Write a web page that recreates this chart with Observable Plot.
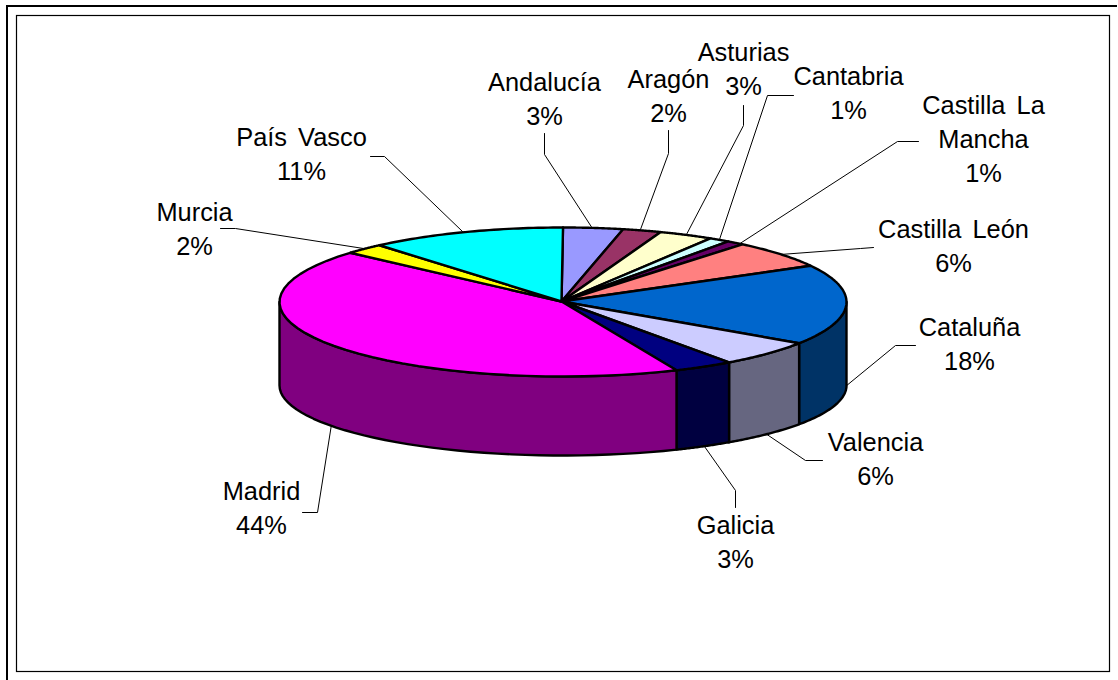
<!DOCTYPE html>
<html>
<head>
<meta charset="utf-8">
<style>html,body{margin:0;padding:0;background:#fff;overflow:hidden}svg{display:block}svg text{word-spacing:4px}</style>
<script src="https://cdn.jsdelivr.net/npm/d3@7"></script>
<script src="https://cdn.jsdelivr.net/npm/@observablehq/plot@0.6"></script>
</head>
<body>
<script>
// Data
const regions = ["Andalucía","Aragón","Asturias","Cantabria","Castilla La\nMancha","Castilla León","Cataluña","Valencia","Galicia","Madrid","Murcia","País Vasco"];
const percentLabels = [3,2,3,1,1,6,18,6,3,44,2,11];
// Slice widths as drawn (in % of the turn)
const drawnShares = [3.4,2.2,3.1,1.2,1.0,6.0,17.4,5.7,3.4,43.0,2.3,11.2];
const topColors = ["#9999FF","#993366","#FFFFCC","#CCFFFF","#660066","#FF8080","#0066CC","#CCCCFF","#000080","#FF00FF","#FFFF00","#00FFFF"];
const sideColors = ["#4C4C80","#4C1933","#808066","#668080","#330033","#804040","#003366","#666680","#000040","#800080","#808000","#008080"];

// Layout (chart-space positions, separate from the data)
const W = 1118, H = 680;
const apex = [561, 301];
const topEllipse = {cx: 562.5, cy: 301.5, rx: 283.5, ry: 74.5};
const baseEllipse = {cx: 562.5, cy: 385, rx: 283.5, ry: 70};
const labelPos = [[544,96.5],[668,94],[743,67],[848,91],[983,137],[953,244],[969,342],[875,457],[735,540],[261,506],[194,227],[301,152]];
const leaderPaths = [
  [[544,133],[544,154],[592,228]],
  [[668,130],[668,153],[640,229]],
  [[743,105],[743,125],[686,234]],
  [[793,95],[767,95],[719,239]],
  [[918,141],[897,141],[738,244]],
  [[873,247],[860,248],[780,254]],
  [[915,345],[895,345],[845,386]],
  [[822,460],[805,460],[765,433]],
  [[735,507],[735,490],[704,446]],
  [[302,512],[317,512],[331,424]],
  [[220,228],[235,228],[363,248]],
  [[370,156],[384,156],[462,231]]
];

const total = d3.sum(drawnShares);
const angle = d3.scaleLinear().domain([0,total]).range([0,2*Math.PI]);
const on = (e,t) => [e.cx + e.rx*Math.sin(t), e.cy - e.ry*Math.cos(t)];
const arcPts = (e,a,b) => d3.range(0,41).map(i => on(e, a+(b-a)*i/40));
const cum = d3.cumsum(drawnShares);

const topPts = [], sidePts = [];
regions.forEach((name,i) => {
  const a = angle(i ? cum[i-1] : 0), b = angle(cum[i]);
  const ring = [apex, ...arcPts(topEllipse,a,b), apex];
  ring.forEach(([x,y]) => topPts.push({x,y,name,c:topColors[i]}));
  // the visible wall: front half of the rim only
  const s = Math.max(a, Math.PI/2), e = Math.min(b, 3*Math.PI/2);
  if (s < e) {
    const wall = [...arcPts(topEllipse,s,e), ...arcPts(baseEllipse,s,e).reverse()];
    wall.push(wall[0]);
    wall.forEach(([x,y]) => sidePts.push({x,y,name,c:sideColors[i]}));
  }
});
const leaders = leaderPaths.flatMap((p,i) => p.map(([x,y]) => ({x,y,i})));
const labels = regions.map((r,i) => ({x:labelPos[i][0], y:labelPos[i][1], t:`${r}\n${percentLabels[i]}%`}));

const chart = Plot.plot({
  width: W, height: H,
  margin: 0,
  x: {domain:[0,W], range:[0,W], axis:null},
  y: {domain:[0,H], range:[0,H], axis:null},
  color: {type:"identity"},
  style: {background:"#fff"},
  marks: [
    Plot.ruleY([5.5], {x1:6, x2:1117, stroke:"#000", strokeWidth:2}),
    Plot.ruleX([6.5], {y1:5, y2:680, stroke:"#000", strokeWidth:2}),
    Plot.rect([{}], {x1:()=>16.5, x2:()=>1109.5, y1:()=>15.5, y2:()=>671.5, fill:"none", stroke:"#000", strokeWidth:1.2}),
    Plot.line(leaders, {x:"x", y:"y", z:"i", stroke:"#000", strokeWidth:1}),
    Plot.line(sidePts, {x:"x", y:"y", z:"name", fill:"c", stroke:"#000", strokeWidth:2.4, strokeLinejoin:"round"}),
    Plot.line(topPts, {x:"x", y:"y", z:"name", fill:"c", stroke:"#000", strokeWidth:2.4, strokeLinejoin:"round"}),
    Plot.text(labels, {x:"x", y:"y", text:"t", fontFamily:"'Liberation Sans', Arial, sans-serif", fontSize:25.4, lineHeight:1.34, fill:"#000", textAnchor:"middle"})
  ]
});
document.body.appendChild(chart);
</script>
</body>
</html>
